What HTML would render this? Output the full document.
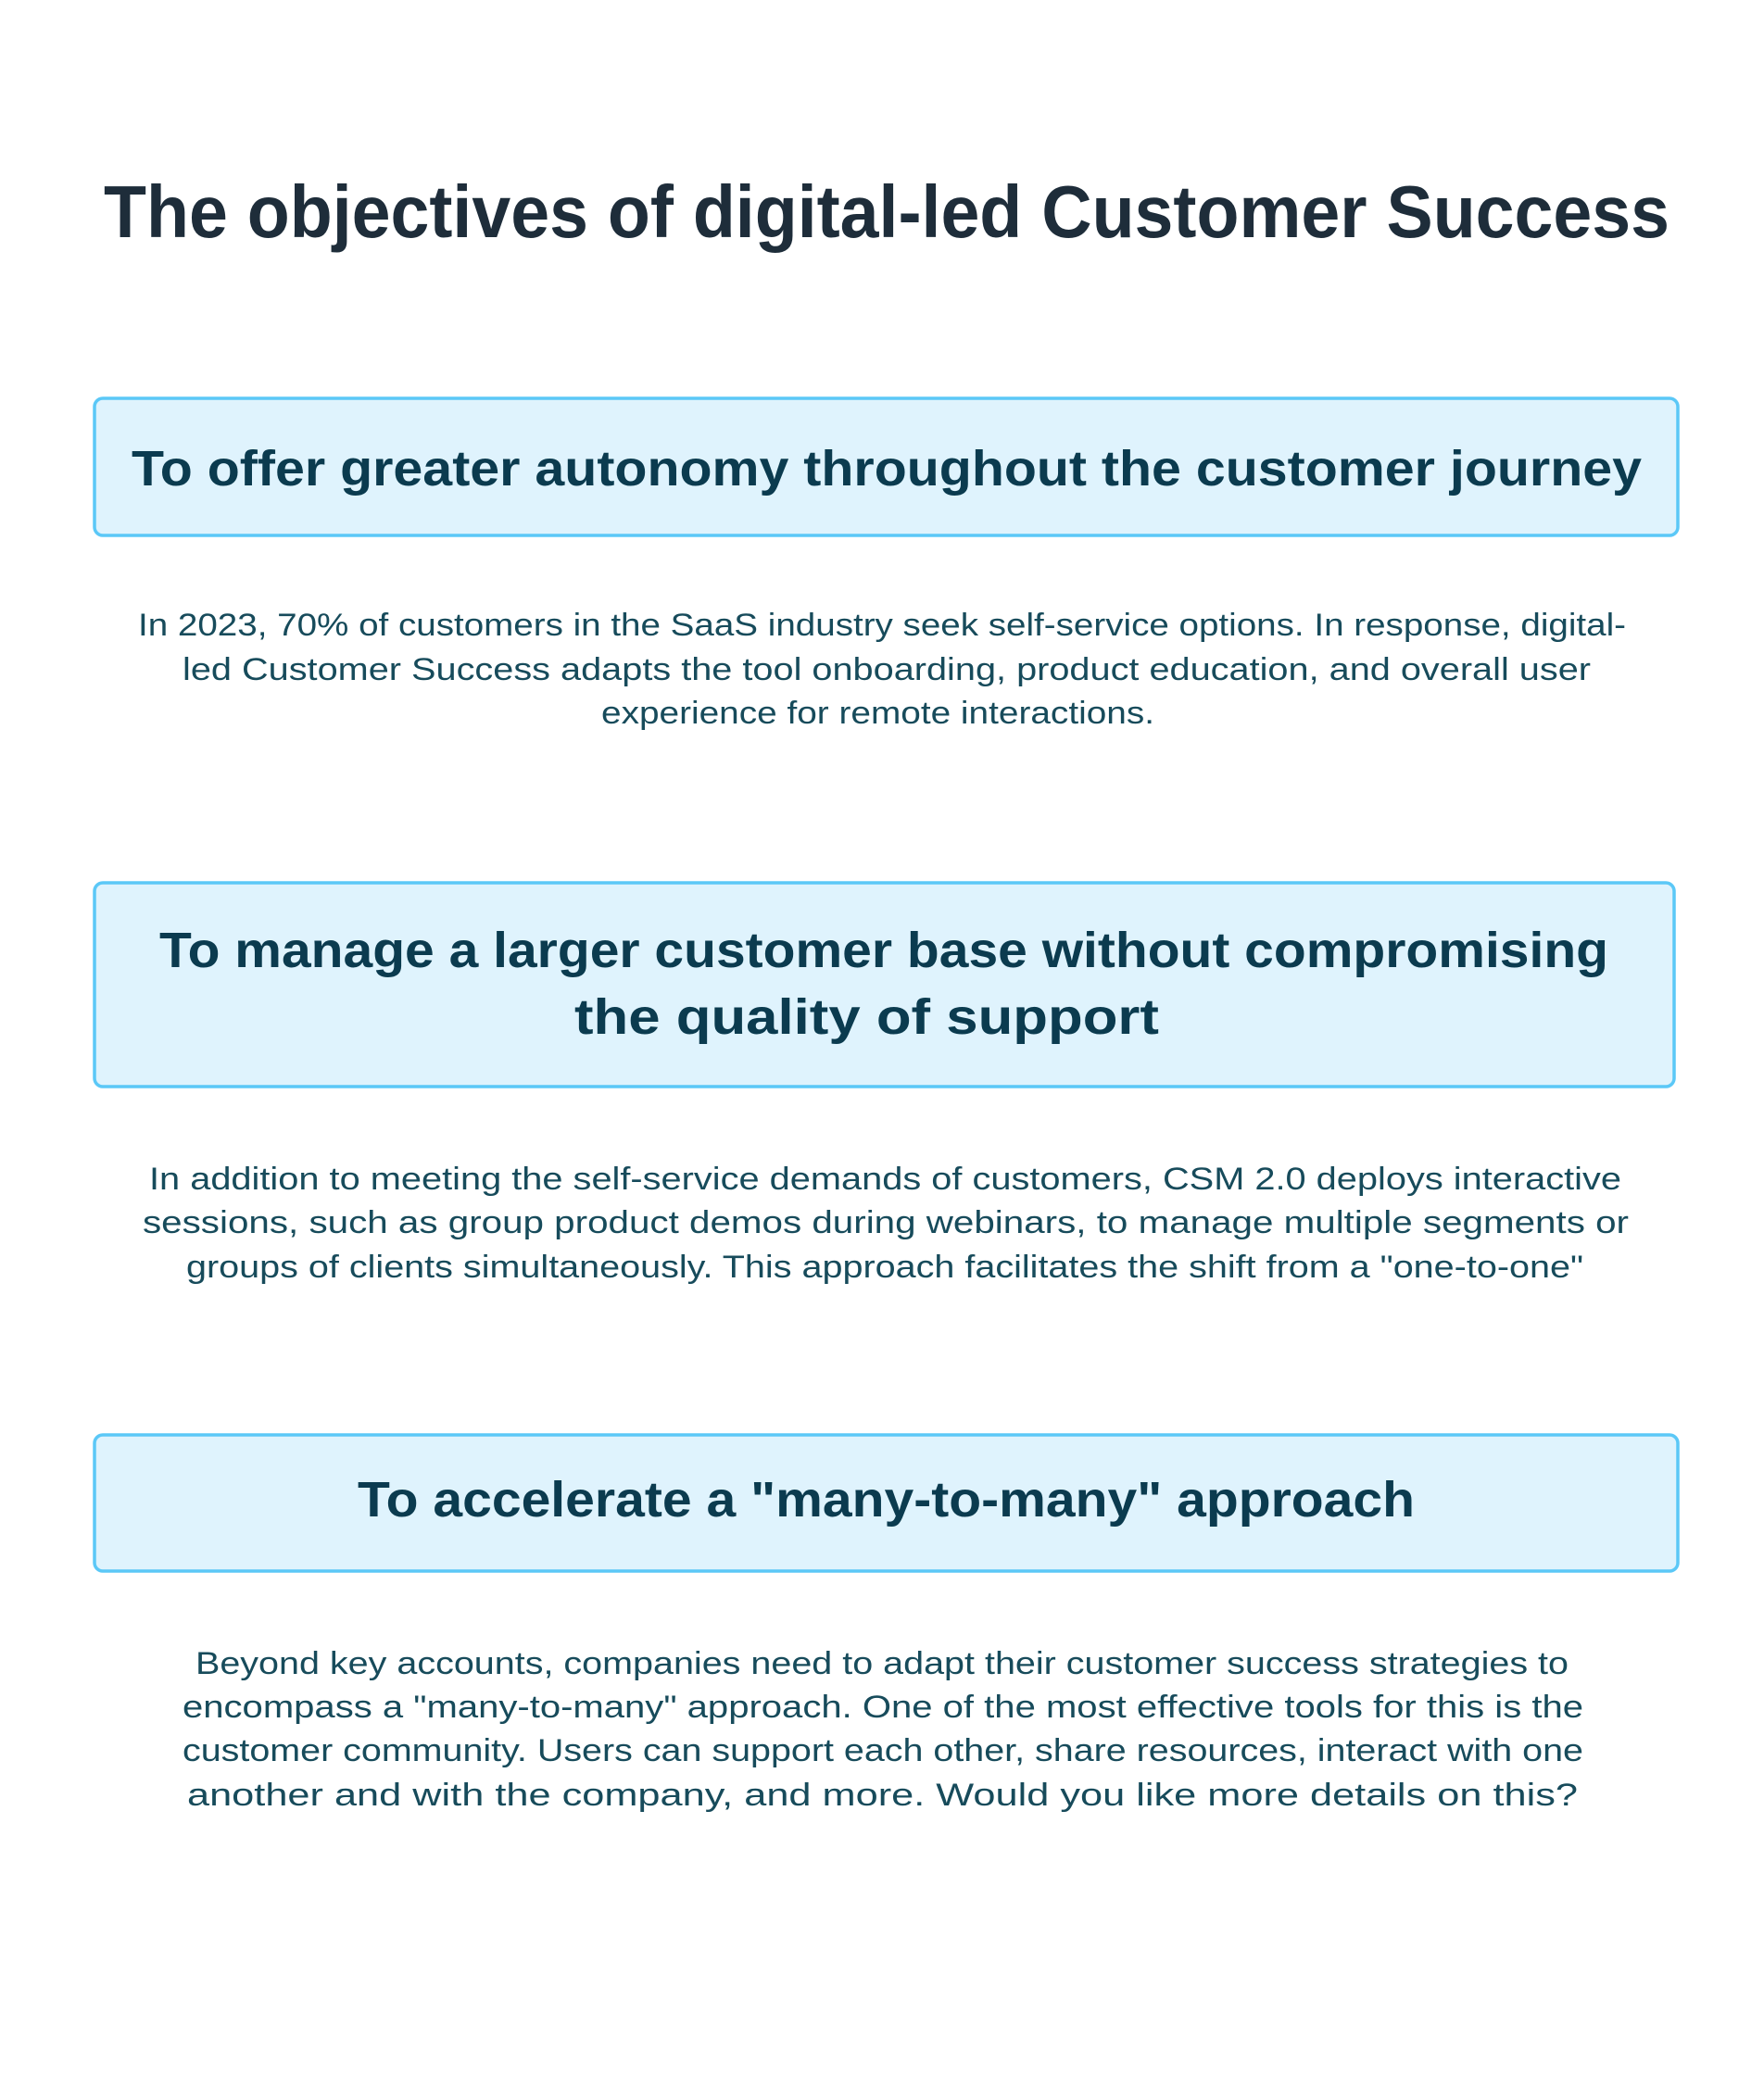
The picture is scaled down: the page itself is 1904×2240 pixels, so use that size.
<!DOCTYPE html>
<html><head><meta charset="utf-8"><style>
html,body{margin:0;padding:0;background:#fff;}
svg{display:block;}
text{font-family:"Liberation Sans",sans-serif;}
.t{font-weight:bold;fill:#1e2d3a;font-size:80px;}
.h{font-weight:bold;fill:#0b3b4f;font-size:54px;}
.p{fill:#174b5b;font-size:34px;}
</style></head><body>
<svg width="1904" height="2240" viewBox="0 0 1904 2240" xmlns="http://www.w3.org/2000/svg">
<rect width="1904" height="2240" fill="#fff"/>
<text class="t" x="112" y="256" textLength="1690" lengthAdjust="spacingAndGlyphs">The objectives of digital-led Customer Success</text>

<rect x="102" y="430" width="1709" height="148" rx="9" fill="#dff3fd" stroke="#5bc8f7" stroke-width="3.5"/>
<text class="h" x="142" y="524" textLength="1630" lengthAdjust="spacingAndGlyphs">To offer greater autonomy throughout the customer journey</text>

<text class="p" x="149" y="686" textLength="1606" lengthAdjust="spacingAndGlyphs">In 2023, 70% of customers in the SaaS industry seek self-service options. In response, digital-</text>
<text class="p" x="197" y="734" textLength="1520" lengthAdjust="spacingAndGlyphs">led Customer Success adapts the tool onboarding, product education, and overall user</text>
<text class="p" x="649" y="781" textLength="597" lengthAdjust="spacingAndGlyphs">experience for remote interactions.</text>

<rect x="102" y="953" width="1705" height="220" rx="9" fill="#dff3fd" stroke="#5bc8f7" stroke-width="3.5"/>
<text class="h" x="172" y="1044" textLength="1564" lengthAdjust="spacingAndGlyphs">To manage a larger customer base without compromising</text>
<text class="h" x="620" y="1116" textLength="631" lengthAdjust="spacingAndGlyphs">the quality of support</text>

<text class="p" x="161" y="1284" textLength="1589" lengthAdjust="spacingAndGlyphs">In addition to meeting the self-service demands of customers, CSM 2.0 deploys interactive</text>
<text class="p" x="154" y="1331" textLength="1604" lengthAdjust="spacingAndGlyphs">sessions, such as group product demos during webinars, to manage multiple segments or</text>
<text class="p" x="201" y="1379" textLength="1508" lengthAdjust="spacingAndGlyphs">groups of clients simultaneously. This approach facilitates the shift from a "one-to-one"</text>

<rect x="102" y="1549" width="1709" height="147" rx="9" fill="#dff3fd" stroke="#5bc8f7" stroke-width="3.5"/>
<text class="h" x="386" y="1637" textLength="1141" lengthAdjust="spacingAndGlyphs">To accelerate a "many-to-many" approach</text>

<text class="p" x="211" y="1807" textLength="1482" lengthAdjust="spacingAndGlyphs">Beyond key accounts, companies need to adapt their customer success strategies to</text>
<text class="p" x="197" y="1854" textLength="1512" lengthAdjust="spacingAndGlyphs">encompass a "many-to-many" approach. One of the most effective tools for this is the</text>
<text class="p" x="197" y="1901" textLength="1512" lengthAdjust="spacingAndGlyphs">customer community. Users can support each other, share resources, interact with one</text>
<text class="p" x="202" y="1949" textLength="1501" lengthAdjust="spacingAndGlyphs">another and with the company, and more. Would you like more details on this?</text>
</svg>
</body></html>
